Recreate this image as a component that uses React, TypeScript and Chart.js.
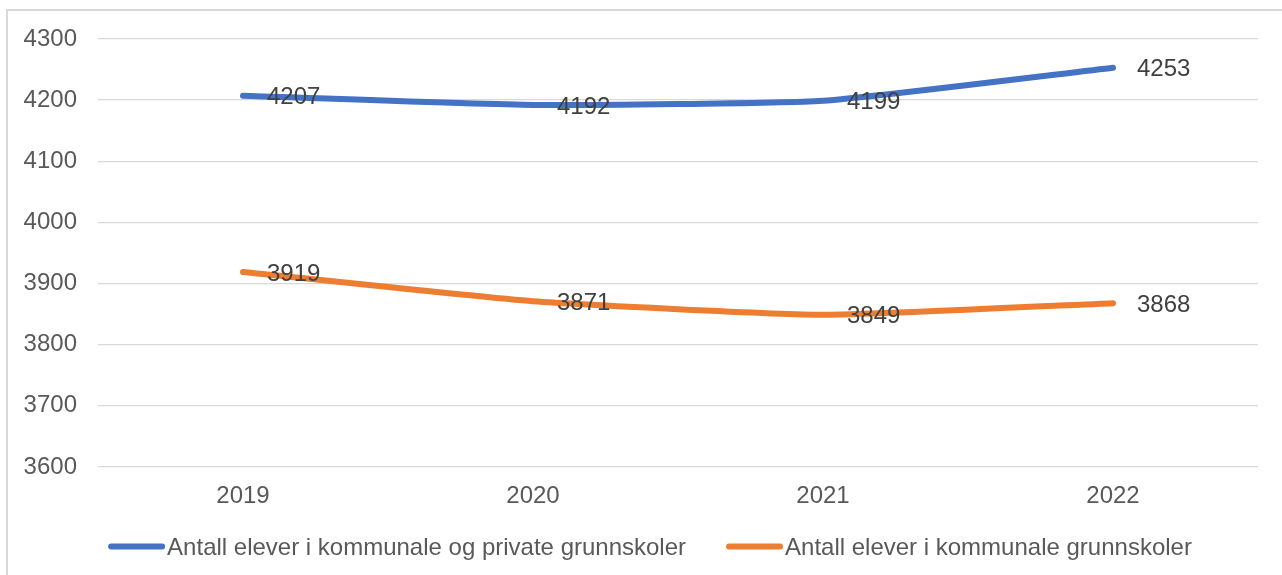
import React, { useEffect, useRef } from "react";
import { Chart, registerables } from "chart.js";

Chart.register(...registerables);

const years = ["2019", "2020", "2021", "2022"];
const totalLabel = "Antall elever i kommunale og private grunnskoler";
const totalValues = [4207, 4192, 4199, 4253];
const municipalLabel = "Antall elever i kommunale grunnskoler";
const municipalValues = [3919, 3871, 3849, 3868];
const yMin = 3600;
const yMax = 4300;
const yStep = 100;

const FONT = "'Liberation Sans', Arial, sans-serif";

const dataLabelPlugin = {
  id: "dataLabels",
  afterDatasetsDraw(chart: any) {
    const ctx = chart.ctx;
    ctx.save();
    ctx.font = `24px ${FONT}`;
    ctx.fillStyle = "#404040";
    ctx.textAlign = "left";
    ctx.textBaseline = "middle";
    chart.data.datasets.forEach((ds: any, i: number) => {
      const meta = chart.getDatasetMeta(i);
      meta.data.forEach((pt: any, j: number) => {
        ctx.fillText(String(ds.data[j]), pt.x + 24, pt.y + 2);
      });
    });
    ctx.restore();
  },
};

const customLegendPlugin = {
  id: "customLegend",
  afterDraw(chart: any) {
    const ctx = chart.ctx;
    ctx.save();
    ctx.font = `24px ${FONT}`;
    const items = chart.data.datasets.map((ds: any) => ({
      text: ds.label,
      color: ds.borderColor,
      w: ctx.measureText(ds.label).width,
    }));
    const lineLen = 51;
    const cap = 3;
    const gapText = 2;
    const gapItems = 40;
    let total = 0;
    items.forEach((it: any, i: number) => {
      total += cap * 2 + lineLen + gapText + it.w;
      if (i > 0) total += gapItems;
    });
    let x = 650 - total / 2;
    const y = 546.5;
    items.forEach((it: any) => {
      ctx.beginPath();
      ctx.strokeStyle = it.color;
      ctx.lineWidth = 6;
      ctx.lineCap = "round";
      ctx.moveTo(x + cap, y);
      ctx.lineTo(x + cap + lineLen, y);
      ctx.stroke();
      const tx = x + cap * 2 + lineLen + gapText;
      ctx.fillStyle = "#595959";
      ctx.textAlign = "left";
      ctx.textBaseline = "middle";
      ctx.fillText(it.text, tx, y + 1.5);
      x = tx + it.w + gapItems;
    });
    ctx.restore();
  },
};

export default function App() {
  const canvasRef = useRef<HTMLCanvasElement | null>(null);

  useEffect(() => {
    if (!canvasRef.current) return;
    const chart = new Chart(canvasRef.current, {
      type: "line",
      data: {
        labels: years,
        datasets: [
          {
            label: totalLabel,
            data: totalValues,
            borderColor: "#4472C4",
            backgroundColor: "#4472C4",
            borderWidth: 6,
            borderCapStyle: "round",
            borderJoinStyle: "round",
            pointRadius: 0,
            tension: 0.15,
          },
          {
            label: municipalLabel,
            data: municipalValues,
            borderColor: "#ED7D31",
            backgroundColor: "#ED7D31",
            borderWidth: 6,
            borderCapStyle: "round",
            borderJoinStyle: "round",
            pointRadius: 0,
            tension: 0.15,
          },
        ],
      },
      options: {
        animation: false,
        responsive: false,
        maintainAspectRatio: false,
        layout: { padding: { top: 39, right: 24, bottom: 46, left: 0 } },
        plugins: {
          legend: { display: false },
          tooltip: { enabled: false },
        },
        scales: {
          x: {
            offset: true,
            grid: { display: false, drawTicks: false },
            border: { display: false },
            ticks: {
              color: "#595959",
              font: { size: 24, family: FONT },
              padding: 15,
              maxRotation: 0,
            },
            afterFit: (scale: any) => {
              scale.height = 62;
            },
          },
          y: {
            min: yMin,
            max: yMax,
            grid: { color: "#d9d9d9", lineWidth: 1.3, drawTicks: false },
            border: { display: false },
            ticks: {
              stepSize: yStep,
              color: "#595959",
              font: { size: 24, family: FONT },
              padding: 21,
              callback: (v: any) => String(v),
            },
            afterFit: (scale: any) => {
              scale.width = 98;
            },
          },
        },
      } as any,
      plugins: [dataLabelPlugin, customLegendPlugin],
    });
    return () => chart.destroy();
  }, []);

  return (
    <div
      style={{
        position: "fixed",
        left: 0,
        top: 0,
        width: 1282,
        height: 575,
        overflow: "hidden",
        background: "#ffffff",
      }}
    >
      <div
        style={{
          position: "absolute",
          left: 6,
          top: 9,
          width: 1400,
          height: 700,
          border: "2px solid #d9d9d9",
          boxSizing: "border-box",
        }}
      />
      <canvas
        ref={canvasRef}
        width={1282}
        height={575}
        style={{ position: "absolute", left: 0, top: 0, width: 1282, height: 575 }}
      />
    </div>
  );
}
